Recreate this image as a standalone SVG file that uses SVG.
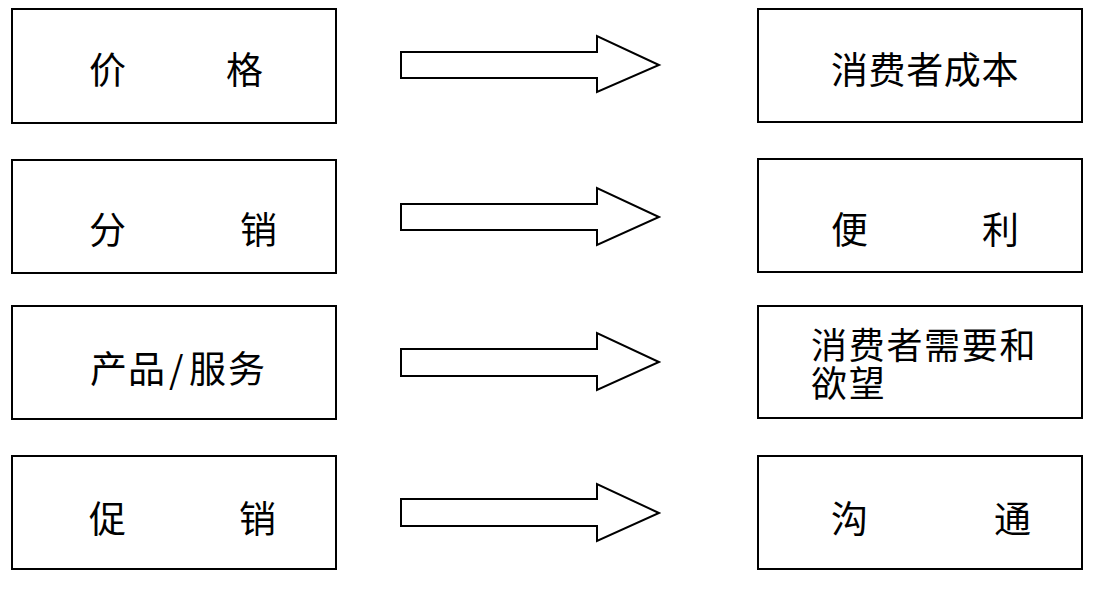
<svg xmlns="http://www.w3.org/2000/svg" width="1098" height="589" viewBox="0 0 1098 589">
<style>
.box{fill:#fff;stroke:#000;stroke-width:2}
.arr{fill:#fff;stroke:#000;stroke-width:2;stroke-linejoin:miter}
.t{font-family:"Noto Sans CJK SC","Noto Sans CJK TC",sans-serif;font-size:37px;fill:#000}
.t2{font-family:"Noto Sans CJK SC","Noto Sans CJK TC",sans-serif;font-size:36px;fill:#000}
</style>
<rect width="1098" height="589" fill="#fff"/>
<g id="connectors">
<polygon class="arr" points="401,52 597,52 597,36 659,65 597,92 597,78 401,78"/>
<polygon class="arr" points="401,204 597,204 597,188 659,217 597,245 597,230 401,230"/>
<polygon class="arr" points="401,349 597,349 597,333 659,362 597,390 597,376 401,376"/>
<polygon class="arr" points="401,499 597,499 597,484 659,513 597,541 597,526 401,526"/>
</g>
<g id="n-price"><rect class="box" x="12" y="9" width="324" height="114"/><text class="t" x="89 226" y="84">价格</text></g>
<g id="n-distribution"><rect class="box" x="12" y="160" width="324" height="113"/><text class="t" x="89 240" y="244">分销</text></g>
<g id="n-product"><rect class="box" x="12" y="306" width="324" height="113"/><text class="t" x="90 128 169 189 228" y="383">产品/服务</text></g>
<g id="n-promotion"><rect class="box" x="12" y="456" width="324" height="113"/><text class="t" x="89 239" y="533">促销</text></g>
<g id="n-cost"><rect class="box" x="758" y="9" width="324" height="113"/><text class="t" x="831 868.6 906.2 943.8 981.4" y="84">消费者成本</text></g>
<g id="n-convenience"><rect class="box" x="758" y="159" width="324" height="113"/><text class="t" x="831 982" y="244">便利</text></g>
<g id="n-needs"><rect class="box" x="758" y="306" width="324" height="112"/><text class="t2" x="811 848.7 886.4 924.1 961.8 999.5" y="359">消费者需要和</text><text class="t2" x="811 848.7" y="397">欲望</text></g>
<g id="n-communication"><rect class="box" x="758" y="456" width="324" height="113"/><text class="t" x="831 994" y="533">沟通</text></g>
</svg>
